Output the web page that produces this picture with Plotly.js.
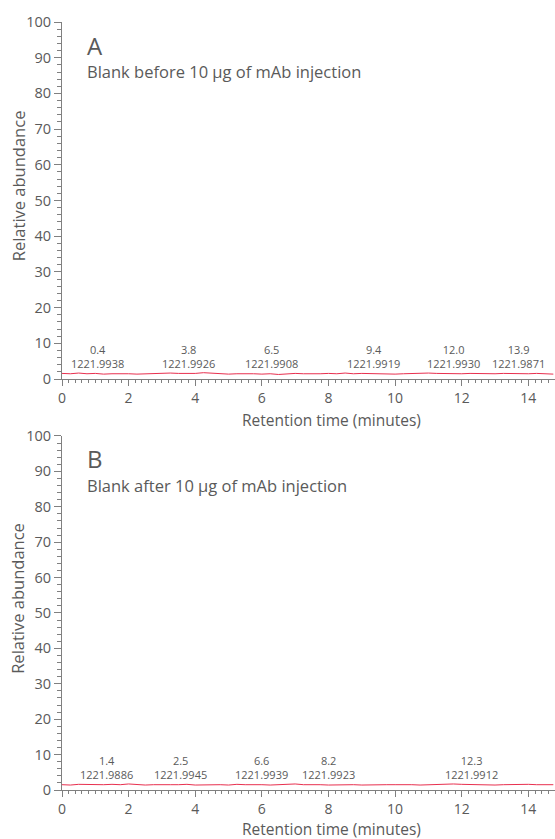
<!DOCTYPE html>
<html><head><meta charset="utf-8">
<script src="https://cdn.plot.ly/plotly-3.0.1.min.js"></script>
<style>html,body{margin:0;padding:0;background:#fff}#chart{width:555px;height:839px}</style>
</head><body><div id="chart"></div>
<script>
// ---- data ----
const timeA = [0,0.25,0.5,0.75,1,1.25,1.5,1.75,2,2.25,2.5,2.75,3,3.25,3.5,3.75,4,4.25,4.5,4.75,5,5.25,5.5,5.75,6,6.25,6.5,6.75,7,7.25,7.5,7.75,8,8.25,8.5,8.75,9,9.25,9.5,9.75,10,10.25,10.5,10.75,11,11.25,11.5,11.75,12,12.25,12.5,12.75,13,13.25,13.5,13.75,14,14.25,14.5,14.75];
const abundA = [1.6,1.5,1.7,1.5,1.6,1.4,1.5,1.6,1.5,1.4,1.5,1.6,1.5,1.7,1.6,1.5,1.6,1.8,1.6,1.5,1.4,1.5,1.6,1.5,1.4,1.5,1.3,1.5,1.6,1.5,1.4,1.5,1.6,1.5,1.7,1.5,1.6,1.5,1.6,1.5,1.4,1.5,1.6,1.5,1.7,1.6,1.5,1.6,1.5,1.6,1.5,1.4,1.5,1.6,1.5,1.4,1.5,1.6,1.5,1.4];
const timeB = timeA;
const abundB = [1.5,1.4,1.6,1.5,1.4,1.5,1.6,1.5,1.7,1.5,1.4,1.5,1.6,1.5,1.5,1.6,1.4,1.5,1.6,1.5,1.4,1.6,1.5,1.6,1.5,1.4,1.5,1.6,1.7,1.5,1.6,1.5,1.4,1.5,1.6,1.5,1.4,1.5,1.6,1.5,1.5,1.6,1.5,1.4,1.5,1.6,1.5,1.7,1.6,1.5,1.6,1.5,1.4,1.5,1.6,1.5,1.6,1.5,1.4,1.5];
const peakRtA = [0.4,3.8,6.5,9.4,12.0,13.9];
const peakMzA = ['1221.9938','1221.9926','1221.9908','1221.9919','1221.9930','1221.9871'];
const peakRtB = [1.4,2.5,6.6,8.2,12.3];
const peakMzB = ['1221.9886','1221.9945','1221.9939','1221.9923','1221.9912'];
const baseA = 1.5, baseB = 1.5;
const xTicks = [0,2,4,6,8,10,12,14];
const yTicks = [0,10,20,30,40,50,60,70,80,90,100];
const titleA = 'Blank before 10 µg of mAb injection';
const titleB = 'Blank after 10 µg of mAb injection';
const xTitle = 'Retention time (minutes)';
const yTitle = 'Relative abundance';

// ---- style ----
const FONT = 'Open Sans, Liberation Sans, Arial, sans-serif';
const GREY = '#5a5a5a';
const AX = '#808080';
const LINE = '#e8304f';
const shiftA = [22,0,-7,-2,-8,-7];
const shiftB = [-2,35,-20,-7,0];

function xax(anchor){
  return {anchor:anchor, range:[0,14.8], tickmode:'linear', tick0:xTicks[0], dtick:xTicks[1]-xTicks[0],
    ticks:'outside', ticklen:6, tickcolor:AX, tickwidth:1,
    showline:true, linecolor:AX, showgrid:false, zeroline:false,
    tickfont:{family:FONT,size:14,color:GREY},
    minor:{tickmode:'linear', tick0:0, dtick:0.2, ticks:'outside', ticklen:3, tickcolor:AX, showgrid:false}};
}
function yax(anchor, dom){
  return {anchor:anchor, domain:dom, range:[0,100], tickmode:'linear', tick0:yTicks[0], dtick:yTicks[1]-yTicks[0],
    ticks:'outside', ticklen:7, tickcolor:AX, tickwidth:1,
    showline:true, linecolor:AX, showgrid:false, zeroline:false,
    tickfont:{family:FONT,size:14.5,color:GREY},
    minor:{tickmode:'linear', tick0:0, dtick:2, ticks:'outside', ticklen:4, tickcolor:AX, showgrid:false}};
}

const traces = [
  {x:timeA, y:abundA, xaxis:'x', yaxis:'y', type:'scatter', mode:'lines', line:{color:LINE,width:1}, hoverinfo:'skip'},
  {x:timeB, y:abundB, xaxis:'x2', yaxis:'y2', type:'scatter', mode:'lines', line:{color:LINE,width:1}, hoverinfo:'skip'}
];

const ann = [];
function peaks(rt, mz, base, sh, xr, yr){
  rt.forEach((t,i)=>{
    ann.push({x:t, y:base, xref:xr, yref:yr, text:t.toFixed(1)+'<br>'+mz[i], showarrow:false,
      xanchor:'center', yanchor:'middle', align:'center', borderpad:0,
      xshift:sh[i], yshift:17, font:{family:FONT,size:11,color:GREY}});
  });
}
peaks(peakRtA, peakMzA, baseA, shiftA, 'x', 'y');
peaks(peakRtB, peakMzB, baseB, shiftB, 'x2', 'y2');
[['A',titleA,'x','y',-41],['B',titleB,'x2','y2',-39]].forEach(p=>{
  const xd = p[2]+' domain', yd = p[3]+' domain';
  ann.push({x:0.046, y:0.935, xref:xd, yref:yd, text:p[0], showarrow:false, xanchor:'left', yanchor:'middle',
    font:{family:FONT,size:24,color:GREY}});
  ann.push({x:0.046, y:0.86, xref:xd, yref:yd, text:p[1], showarrow:false, xanchor:'left', yanchor:'middle',
    font:{family:FONT,size:16.5,color:GREY}});
  ann.push({x:0.546, y:0, xref:xd, yref:yd, text:xTitle, showarrow:false, xanchor:'center', yanchor:'middle',
    yshift:p[4], borderpad:0, font:{family:FONT,size:15.5,color:GREY}});
  ann.push({x:0, y:0.54, xref:xd, yref:yd, text:yTitle, showarrow:false, xanchor:'center', yanchor:'middle',
    textangle:-90, xshift:-44, font:{family:FONT,size:16.5,color:GREY}});
});

const layout = {
  width:555, height:839, margin:{l:62,r:0,t:22,b:49},
  paper_bgcolor:'#fff', plot_bgcolor:'#fff', showlegend:false,
  xaxis:xax('y'), yaxis:yax('x',[0.535,1]),
  xaxis2:xax('y2'), yaxis2:yax('x2',[0,0.461]),
  annotations:ann
};
Plotly.newPlot('chart', traces, layout, {staticPlot:true, displayModeBar:false});
</script></body></html>
